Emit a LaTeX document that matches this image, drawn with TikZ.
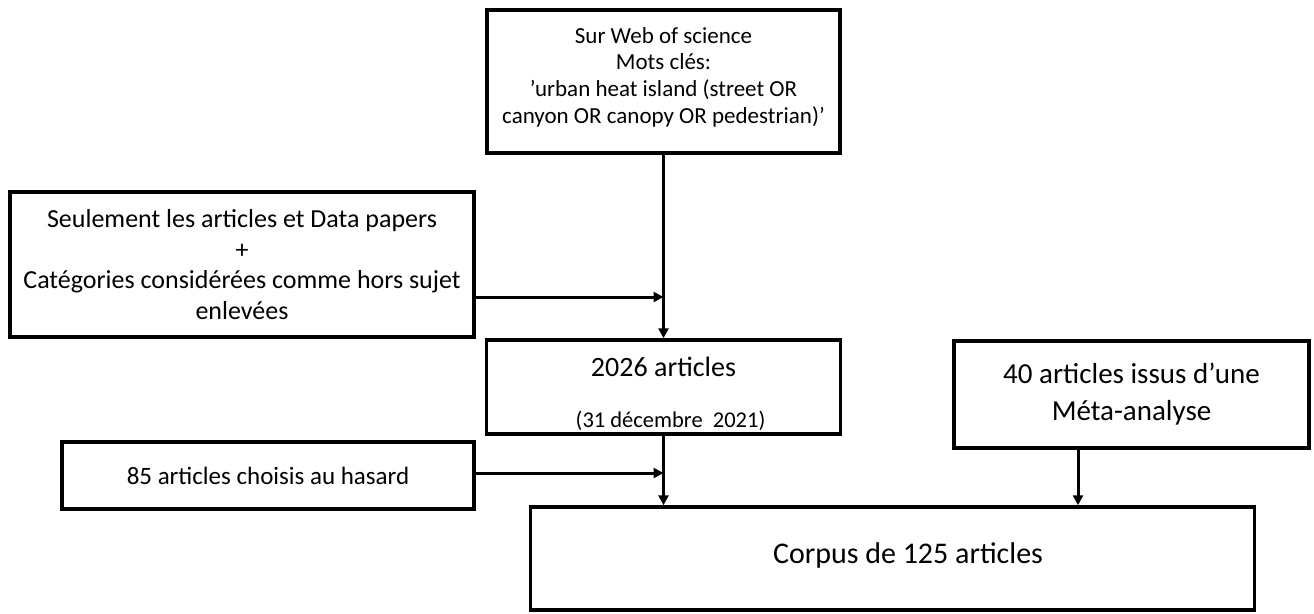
\documentclass[tikz,border=0pt]{standalone}
\usepackage{fontspec}
\setmainfont{Carlito}
\usepackage{tikz}
\usetikzlibrary{arrows.meta, positioning}

\tikzset{
  block/.style={draw, line width=3.5pt, align=center, inner sep=0pt},
  flow/.style={line width=3pt, -{Triangle[length=10pt, width=10pt]}},
  txt/.style={inner sep=0pt, align=center}
}

\begin{document}
\begin{tikzpicture}[x=1pt, y=1pt]
\useasboundingbox (0,0) rectangle (1314,-613);

% Boxes
\node[block, minimum width=353, minimum height=143] (search) at (663.5,-81.5) {};
\node[txt, font=\fontsize{23}{26.7}\selectfont] (searchtxt) at (663.5,-77)
  {Sur Web of science\\Mots clés:\\’urban heat island (street OR\\canyon OR canopy OR pedestrian)’};
\node[block, minimum width=464, minimum height=145, font=\fontsize{26}{30.5}\selectfont] (filter) at (242,-264.5)
  {Seulement les articles et Data papers\\+\\Catégories considérées comme hors sujet\\enlevées};
\node[block, minimum width=354, minimum height=94] (total) at (663.5,-387) {};
\node[txt, font=\fontsize{28}{33}\selectfont] (totalnb) at (663.5,-367) {2026 articles};
\node[txt, font=\fontsize{22.5}{27}\selectfont] (totaldate) at (670.5,-421) {(31 décembre~~2021)};
\node[block, minimum width=355, minimum height=107, font=\fontsize{29}{37}\selectfont] (meta) at (1131.5,-394.5)
  {40 articles issus d’une\\Méta-analyse};
\node[block, minimum width=412, minimum height=67, font=\fontsize{25}{30}\selectfont] (random) at (268,-475.5)
  {85 articles choisis au hasard};
\node[block, minimum width=724, minimum height=103] (corpus) at (892.5,-558.5) {};
\node[txt, font=\fontsize{30}{36}\selectfont] (corpustxt) at (908,-555) {Corpus de 125 articles};

% Junctions
\coordinate (jfilter) at (663.5,-297);
\coordinate (jrandom) at (663.5,-473);
\coordinate (jmeta) at (1078,0);

% Arrows
\draw[flow] (search) -- (total);
\draw[flow] (filter.east |- jfilter) -- (jfilter);
\draw[flow] (total) -- (corpus.north -| total);
\draw[flow] (random.east |- jrandom) -- (jrandom);
\draw[flow] (meta.south -| jmeta) -- (corpus.north -| jmeta);

\end{tikzpicture}
\end{document}
